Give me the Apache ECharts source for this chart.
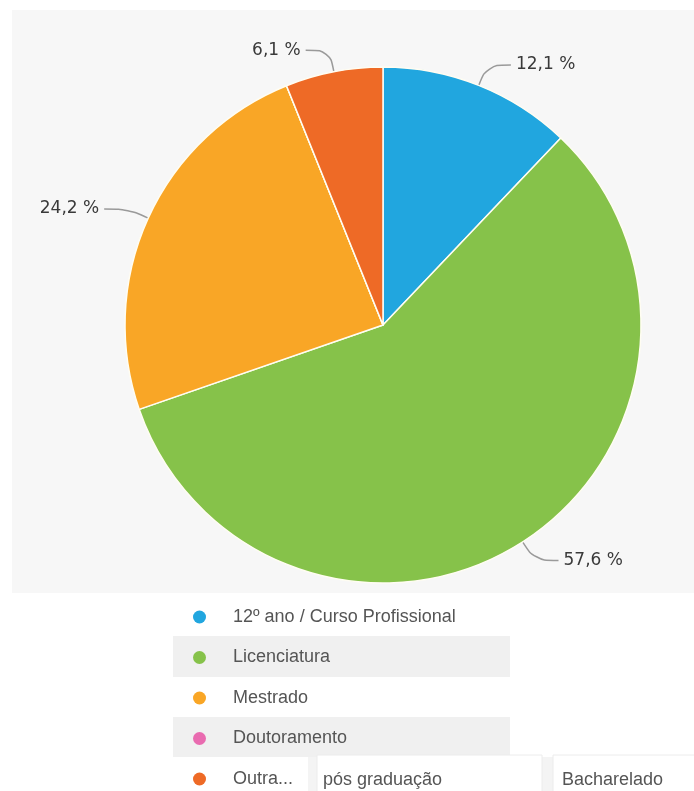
<!DOCTYPE html>
<html>
<head>
<meta charset="utf-8">
<script src="https://cdn.jsdelivr.net/npm/echarts@6/dist/echarts.min.js"></script>
<style>
  html, body { margin: 0; padding: 0; background: #fff; }
  #chart { width: 694px; height: 791px; }
</style>
</head>
<body>
<div id="chart"></div>
<script>
// categories + shares (%)
const categories = ['12º ano / Curso Profissional', 'Licenciatura', 'Mestrado', 'Doutoramento', 'Outra...'];
const shares = [12.1, 57.6, 24.2, 0, 6.1];
const colors = ['#21a6df', '#86c24a', '#f9a626', '#e96bb0', '#ee6a26'];
// free text answers typed in the "Outra" row
const otherAnswers = ['pós graduação', 'Bacharelado'];

const chart = echarts.init(document.getElementById('chart'));

const pieData = categories.map((name, i) => {
  const item = { name: name, value: shares[i], itemStyle: { color: colors[i] } };
  if (shares[i] === 0) {
    item.label = { show: false };
    item.labelLine = { show: false };
  }
  return item;
});

const fmt = v => v.toFixed(1).replace('.', ',') + ' %';
const legendFont = '18px "Liberation Sans", Arial, sans-serif';

chart.setOption({
  backgroundColor: '#fff',
  animation: false,
  graphic: [
    // plot area
    { type: 'rect', z: -10, shape: { x: 12, y: 10, width: 682, height: 583 }, style: { fill: '#f7f7f7' } },
    // legend rows (zebra)
    { type: 'rect', z: -10, shape: { x: 173, y: 636, width: 337, height: 41 }, style: { fill: '#f0f0f0' } },
    { type: 'rect', z: -10, shape: { x: 173, y: 717, width: 337, height: 40 }, style: { fill: '#f0f0f0' } },
    // "Outra" row with its answer boxes
    { type: 'rect', z: -10, shape: { x: 308, y: 757, width: 386, height: 34 }, style: { fill: '#f4f4f4' } },
    { type: 'rect', z: -9, shape: { x: 317, y: 755, width: 225, height: 40 }, style: { fill: '#fff', stroke: '#ececec', lineWidth: 1 } },
    { type: 'rect', z: -9, shape: { x: 553, y: 755, width: 150, height: 40 }, style: { fill: '#fff', stroke: '#ececec', lineWidth: 1 } },
    { type: 'text', z: 5, x: 323, y: 780, style: { text: otherAnswers[0], fill: '#555', font: legendFont, verticalAlign: 'middle' } },
    { type: 'text', z: 5, x: 562, y: 780, style: { text: otherAnswers[1], fill: '#555', font: legendFont, verticalAlign: 'middle' } }
  ],
  legend: {
    orient: 'vertical',
    left: 193,
    top: 608,
    height: 190,
    padding: 0,
    icon: 'circle',
    itemWidth: 13,
    itemHeight: 13,
    itemGap: 22.5,
    selectedMode: false,
    itemStyle: { borderWidth: 0 },
    data: categories,
    textStyle: {
      color: '#555',
      fontSize: 18,
      fontFamily: '"Liberation Sans", Arial, sans-serif',
      lineHeight: 18,
      padding: [0, 0, 0, 22]
    }
  },
  series: [
    {
      type: 'pie',
      center: [383, 325],
      radius: 258,
      startAngle: 90,
      clockwise: true,
      avoidLabelOverlap: false,
      itemStyle: { borderColor: '#fffdf2', borderWidth: 1.5 },
      label: {
        position: 'outside',
        formatter: p => fmt(p.value),
        color: '#3a3a3a',
        fontSize: 17,
        fontFamily: '"DejaVu Sans", sans-serif'
      },
      labelLine: {
        length: 22,
        length2: 24,
        smooth: 0.4,
        lineStyle: { color: '#9a9a9a', width: 1.5 }
      },
      emphasis: { disabled: true },
      data: pieData
    }
  ]
});
</script>
</body>
</html>
